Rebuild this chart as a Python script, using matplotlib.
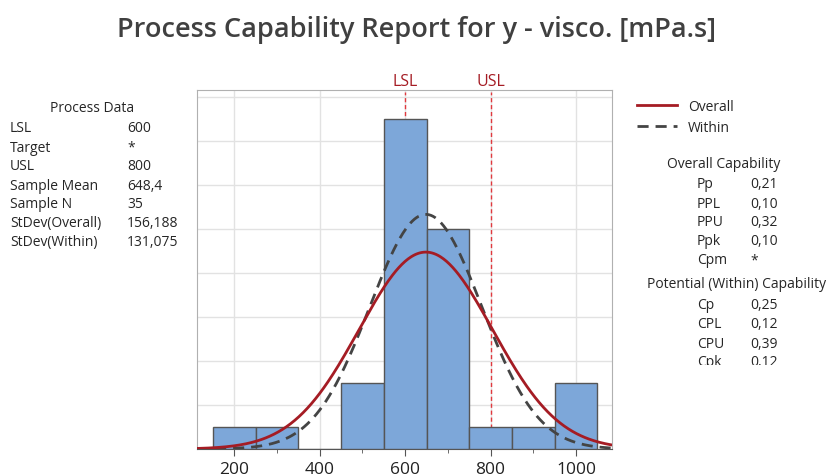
import numpy as np
import matplotlib
matplotlib.use("Agg")
import matplotlib.pyplot as plt
from matplotlib.transforms import Bbox

plt.rcParams['font.family'] = ['Open Sans', 'DejaVu Sans']

# histogram data (bins of width 100)
bin_edges = [150, 250, 350, 450, 550, 650, 750, 850, 950, 1050]
counts = [1, 1, 0, 3, 15, 10, 1, 1, 3]

lsl = 600
usl = 800
mean = 648.4
n = 35
sd_overall = 156.188
sd_within = 131.075

process_labels = ["LSL", "Target", "USL", "Sample Mean", "Sample N", "StDev(Overall)", "StDev(Within)"]
process_values = ["600", "*", "800", "648,4", "35", "156,188", "131,075"]
overall_labels = ["Pp", "PPL", "PPU", "Ppk", "Cpm"]
overall_values = ["0,21", "0,10", "0,32", "0,10", "*"]
within_labels = ["Cp", "CPL", "CPU", "Cpk"]
within_values = ["0,25", "0,12", "0,39", "0,12"]

W, H = 831, 477
fig = plt.figure(figsize=(W / 100, H / 100), dpi=100)

def px(x, y):
    return x / W, 1 - y / H

ax = fig.add_axes([197 / W, 1 - 450 / H, (612 - 197) / W, (450 - 91) / H])

red = "#a51c24"
dark = "#262626"

widths = np.diff(bin_edges)
ax.bar(bin_edges[:-1], counts, width=widths, align="edge", color="#7da7d9",
       edgecolor="#555555", linewidth=1, zorder=3)

xmin, xmax = 113, 1084
xs = np.linspace(xmin, xmax, 400)
binw = widths[0]

def npdf(x, m, s):
    return np.exp(-0.5 * ((x - m) / s) ** 2) / (s * np.sqrt(2 * np.pi))

ax.plot(xs, n * binw * npdf(xs, mean, sd_overall), color=red, lw=2, zorder=5, label="Overall")
ax.plot(xs, n * binw * npdf(xs, mean, sd_within), color="#444444", lw=2,
        ls=(0, (4, 2.5)), zorder=4, label="Within")

ymax = 16.3
for v, name in [(lsl, "LSL"), (usl, "USL")]:
    ax.plot([v, v], [0, ymax - 0.1], color="#e0393e", lw=1, ls=(0, (3, 2)), zorder=2)
    ax.text(v, ymax + 0.05, name, color=red, ha="center", va="bottom", fontsize=11.5)

ax.set_xlim(xmin, xmax)
ax.set_ylim(0, ymax)
ax.set_xticks([200, 400, 600, 800, 1000])
ax.set_xticks([300, 500, 700, 900], minor=True)
ax.set_yticks(np.arange(2, 17, 2))
ax.tick_params(axis="y", left=False, labelleft=False)
ax.tick_params(axis="x", labelsize=12.5, colors="#222222", length=5, color="#555555")
ax.tick_params(axis="x", which="minor", length=3, color="#555555")
ax.grid(True, color="#e2e2e2", lw=1, zorder=0)
ax.set_axisbelow(True)
for s in ["left", "right", "top"]:
    ax.spines[s].set_color("#b0b0b0")
ax.spines["bottom"].set_color("#555555")

fig.text(*px(417, 30), "Process Capability Report for y - visco. [mPa.s]", ha="center",
         va="center", fontsize=19.5, fontweight="semibold", color="#404040")

fs = 10
dy = 2
fig.text(*px(92, 107 + dy), "Process Data", ha="center", va="center", fontsize=fs, color=dark)
for i, (lab, val) in enumerate(zip(process_labels, process_values)):
    y = 127 + i * 19 + dy
    fig.text(*px(10, y), lab, ha="left", va="center", fontsize=fs, color=dark)
    fig.text(*px(127, y), val, ha="left", va="center", fontsize=fs, color=dark)

# legend
fig.add_artist(plt.Line2D([637 / W, 677 / W], [1 - 106 / H] * 2, color=red, lw=2))
fig.add_artist(plt.Line2D([637 / W, 677 / W], [1 - 127 / H] * 2, color="#444444", lw=2,
                          ls=(0, (4, 2.5))))
fig.text(*px(688, 106 + dy), "Overall", ha="left", va="center", fontsize=fs, color=dark)
fig.text(*px(688, 127 + dy), "Within", ha="left", va="center", fontsize=fs, color=dark)

fig.text(*px(724, 162 + dy), "Overall Capability", ha="center", va="center", fontsize=fs, color=dark)
for i, (lab, val) in enumerate(zip(overall_labels, overall_values)):
    y = 183 + i * 19 + dy
    fig.text(*px(697, y), lab, ha="left", va="center", fontsize=fs, color=dark)
    fig.text(*px(750, y), val, ha="left", va="center", fontsize=fs, color=dark)

fig.text(*px(737, 282 + dy), "Potential (Within) Capability", ha="center", va="center",
         fontsize=fs, color=dark)
clip = Bbox.from_extents(600, H - 366, W, H)
for i, (lab, val) in enumerate(zip(within_labels, within_values)):
    y = 304 + i * 19 + dy
    for x, s in [(697, lab), (750, val)]:
        t = fig.text(*px(x, y), s, ha="left", va="center", fontsize=fs, color=dark)
        t.set_clip_box(clip)
        t.set_clip_on(True)

fig.savefig("out.png", dpi=100)
